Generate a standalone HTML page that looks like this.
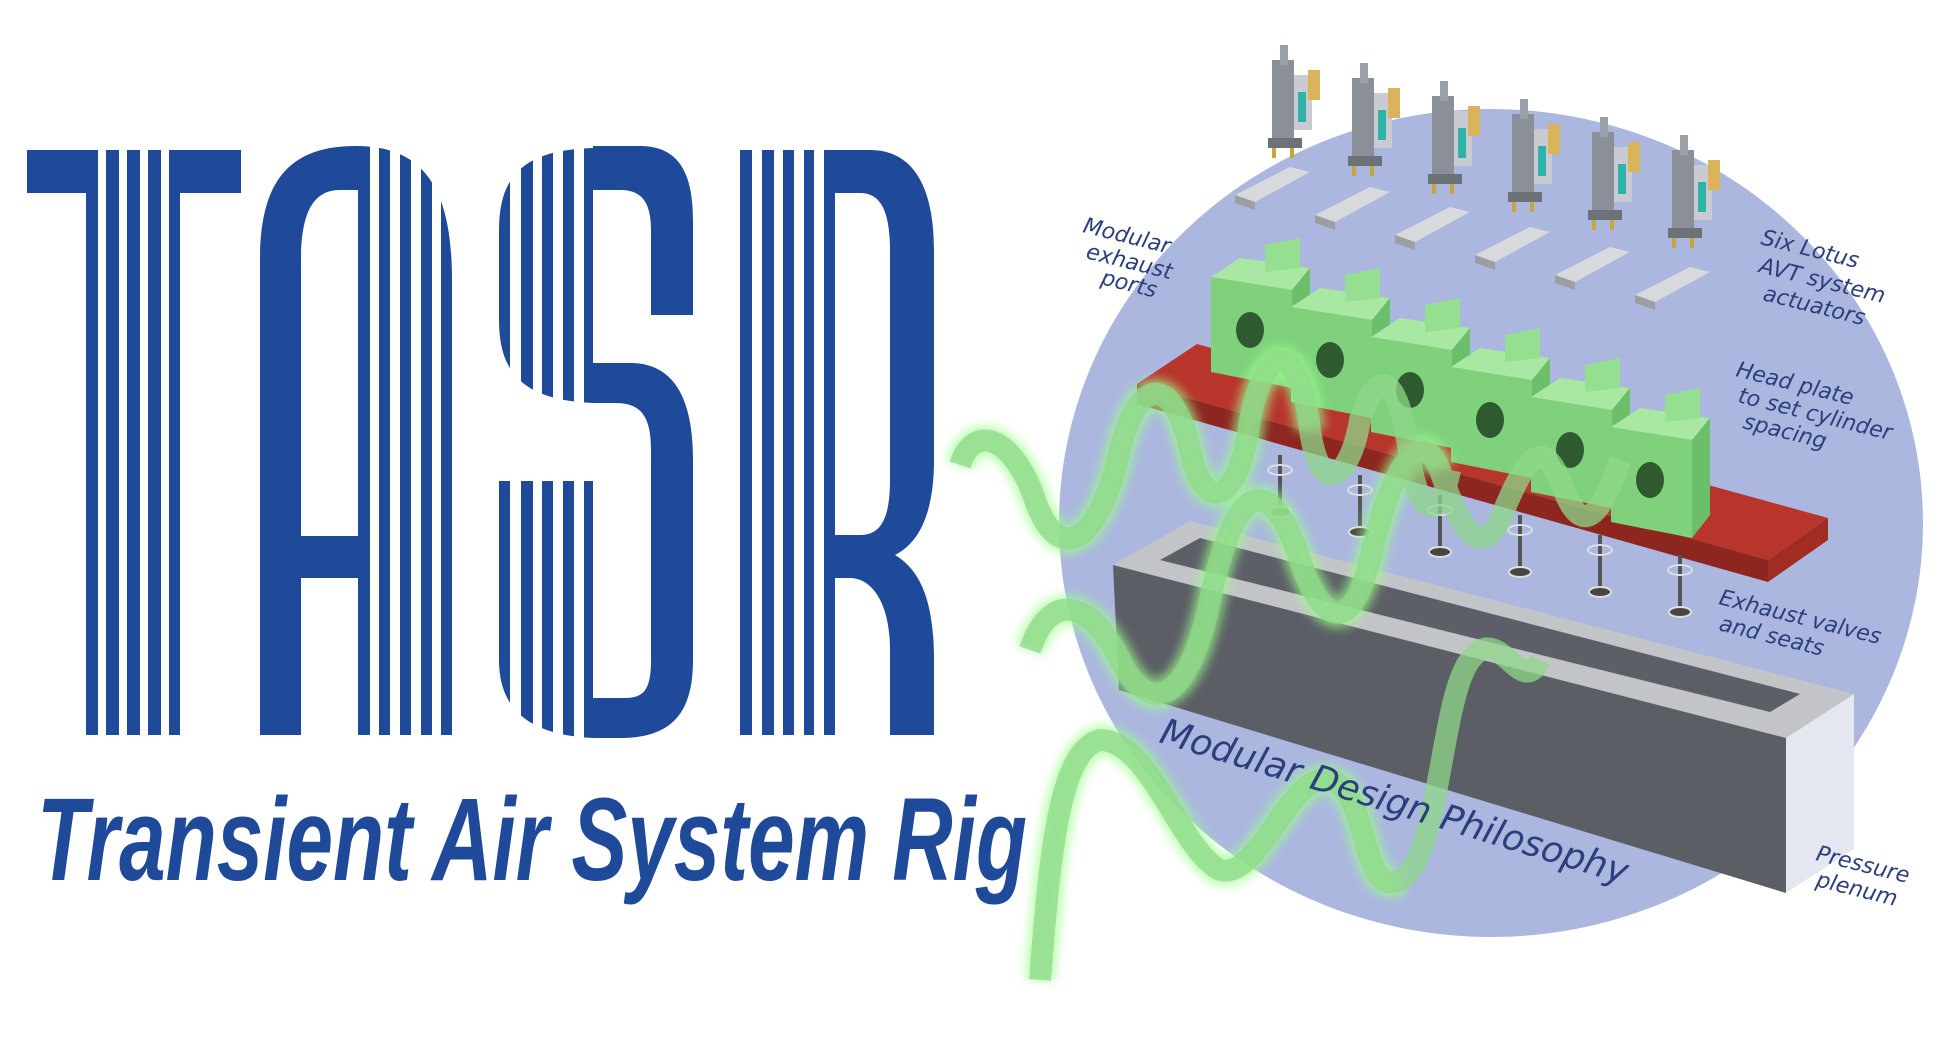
<!DOCTYPE html>
<html><head><meta charset="utf-8"><style>
html,body{margin:0;padding:0;background:#fff;}
svg{display:block;}
.lbl{font-family:"DejaVu Sans","Liberation Sans",sans-serif;font-style:italic;fill:#2b3f7c;font-size:22px;}
</style></head><body>
<svg width="1934" height="1048" viewBox="0 0 1934 1048" xmlns="http://www.w3.org/2000/svg">
<defs>
<filter id="glow" x="-20%" y="-20%" width="140%" height="140%"><feGaussianBlur stdDeviation="5"/></filter>
</defs>
<rect width="1934" height="1048" fill="#fff"/>
<g fill="#1f4a99">
 <rect x="27" y="150" width="214" height="43"/>
 <rect x="86" y="150" width="94" height="585"/>
 <path fill-rule="evenodd" d="M260,735 L260,260 C260,180 290,146 356,146 C425,146 452,190 452,280 L452,735 Z M301,536 L358,536 L358,190 L340,190 C312,190 301,215 301,260 Z M301,578 L358,578 L358,735 L301,735 Z"/>
 <path d="M593,146 L640,146 C680,146 693,175 693,220 L693,315 L651,315 L651,230 C651,200 640,190 620,190 L593,190 Z"/>
 <path d="M499,230 C499,170 530,150 593,148 L593,403 C520,400 499,370 499,320 Z"/>
 <path d="M593,363 L630,363 C675,363 693,400 693,460 L693,660 C693,715 670,738 620,738 L593,738 L593,698 L625,698 C645,698 651,688 651,660 L651,450 C651,415 640,403 615,403 L593,403 Z"/>
 <path d="M499,481 L593,481 L593,738 C530,735 499,710 499,660 Z"/>
 <path fill-rule="evenodd" d="M740,150 L870,150 C915,150 934,190 934,250 L934,460 C934,520 915,545 895,555 C920,570 934,600 934,660 L934,735 L890,735 L890,650 C890,600 870,578 850,578 L835,578 L835,735 L740,735 Z M835,193 L835,535 L860,535 C880,535 890,520 890,480 L890,250 C890,210 880,193 860,193 Z"/>
</g>
<g fill="#fff">
 <rect x="98" y="140" width="8" height="600"/><rect x="119" y="140" width="8" height="600"/><rect x="140" y="140" width="8" height="600"/><rect x="161" y="140" width="8" height="600"/>
 <rect x="370" y="140" width="9" height="600"/><rect x="390" y="140" width="10" height="600"/><rect x="411" y="140" width="10" height="600"/><rect x="432" y="140" width="9" height="600"/>
 <rect x="510" y="140" width="11" height="600"/><rect x="533" y="140" width="9" height="600"/><rect x="553" y="140" width="10" height="600"/><rect x="574" y="140" width="10" height="600"/>
 <rect x="752" y="140" width="10" height="600"/><rect x="774" y="140" width="9" height="600"/><rect x="794" y="140" width="10" height="600"/><rect x="814" y="140" width="10" height="600"/>
</g>
<text x="37" y="880" font-family="Liberation Sans, sans-serif" font-style="italic" font-weight="bold" font-size="118" fill="#1f4a99" textLength="990" lengthAdjust="spacingAndGlyphs">Transient Air System Rig</text>

<ellipse cx="1491" cy="523" rx="432" ry="414" fill="#abb7df"/>

<g>
 <g id="act">
  <rect x="1272" y="60" width="22" height="80" fill="#8a8f98"/>
  <rect x="1280" y="45" width="8" height="20" fill="#9aa0a8"/>
  <rect x="1294" y="75" width="18" height="55" fill="#c8ccd2"/>
  <rect x="1298" y="92" width="8" height="30" fill="#2fb3a8"/>
  <rect x="1308" y="70" width="12" height="30" fill="#d9b45a"/>
  <rect x="1268" y="138" width="34" height="10" fill="#6d7178"/>
  <rect x="1272" y="148" width="4" height="10" fill="#c9a63a"/><rect x="1290" y="148" width="4" height="10" fill="#c9a63a"/>
 </g>
 <use href="#act" x="80" y="18"/><use href="#act" x="160" y="36"/><use href="#act" x="240" y="54"/><use href="#act" x="320" y="72"/><use href="#act" x="400" y="90"/>
</g>
<g>
 <g id="pl"><polygon points="1235,195 1290,167 1310,172 1255,202" fill="#d8d9dc"/><polygon points="1235,195 1255,202 1255,210 1235,203" fill="#9c9ea3"/></g>
 <use href="#pl" x="80" y="20"/><use href="#pl" x="160" y="40"/><use href="#pl" x="240" y="60"/><use href="#pl" x="320" y="80"/><use href="#pl" x="400" y="100"/>
</g>
<polygon points="1113,565 1190,521 1854,694 1786,738" fill="#c3c4c8"/>
<polygon points="1160,560 1200,538 1800,694 1770,712" fill="#5d5f68"/>
<polygon points="1113,565 1786,738 1786,893 1119,690" fill="#5c5e66"/>
<polygon points="1786,738 1854,694 1854,849 1786,893" fill="#e4e6f0"/>
<polygon points="1137,384 1197,344 1828,518 1768,560" fill="#b8352c"/>
<polygon points="1137,384 1768,560 1768,582 1137,404" fill="#8e2620"/>
<polygon points="1768,560 1828,518 1828,540 1768,582" fill="#a02c24"/>
<g fill="#4a4443" stroke="#ddd" stroke-width="2">
 <g id="vl"><line x1="1280" y1="455" x2="1280" y2="510" stroke="#555" stroke-width="4"/><ellipse cx="1280" cy="470" rx="12" ry="5" fill="none"/><ellipse cx="1280" cy="512" rx="11" ry="5"/></g>
 <use href="#vl" x="80" y="20"/><use href="#vl" x="160" y="40"/><use href="#vl" x="240" y="60"/><use href="#vl" x="320" y="80"/><use href="#vl" x="400" y="100"/>
</g>
<g>
 <g id="gb">
  <polygon points="1211,277 1240,258 1310,268 1292,290" fill="#a8e8a2"/>
  <polygon points="1211,277 1292,290 1292,388 1211,372" fill="#7fd17c"/>
  <polygon points="1292,290 1310,268 1310,365 1292,388" fill="#6cbf6a"/>
  <ellipse cx="1250" cy="330" rx="14" ry="18" fill="#2f5a2f"/>
  <polygon points="1265,245 1300,238 1300,268 1265,272" fill="#95df90"/>
 </g>
 <use href="#gb" x="80" y="30"/><use href="#gb" x="160" y="60"/><use href="#gb" x="240" y="90"/><use href="#gb" x="320" y="120"/><use href="#gb" x="400" y="150"/>
</g>
<g fill="none" stroke-linecap="butt">
 <g filter="url(#glow)" stroke="#9cff8c" stroke-width="30" opacity="0.7">
  <path d="M960,465 C975,420 1015,440 1035,500 C1060,570 1100,540 1120,450 C1140,370 1175,380 1190,450 C1205,520 1240,500 1250,420 C1265,340 1300,340 1310,430"/>
  <path d="M1030,650 C1050,590 1090,600 1120,660 C1150,720 1190,700 1210,600 C1235,480 1270,470 1300,560 C1320,620 1350,640 1370,560 C1390,470 1420,420 1440,470"/>
  <path d="M1040,980 C1050,850 1060,750 1100,740 C1150,740 1180,850 1220,870 C1260,880 1290,770 1330,780 C1370,790 1360,900 1400,880"/>
 </g>
 <g stroke="#8fd88a" stroke-width="22" opacity="0.75">
  <path d="M960,465 C975,420 1015,440 1035,500 C1060,570 1100,540 1120,450 C1140,370 1175,380 1190,450 C1205,520 1240,500 1250,420 C1265,340 1300,340 1310,430 C1320,500 1350,480 1360,420 C1380,360 1400,380 1410,460 C1420,520 1440,520 1450,470"/>
  <path d="M1030,650 C1050,590 1090,600 1120,660 C1150,720 1190,700 1210,600 C1235,480 1270,470 1300,560 C1320,620 1350,640 1370,560 C1390,470 1420,420 1440,470 C1460,530 1480,560 1500,520 C1520,470 1540,430 1560,480 C1580,540 1600,520 1620,460"/>
  <path d="M1040,980 C1050,850 1060,750 1100,740 C1150,740 1180,850 1220,870 C1260,880 1290,770 1330,780 C1370,790 1360,900 1400,880 C1440,860 1440,700 1470,660 C1500,620 1520,700 1540,660"/>
 </g>
</g>
<g class="lbl">
 <text transform="translate(1082,232) rotate(14)">Modular</text>
 <text transform="translate(1085,258) rotate(14)">exhaust</text>
 <text transform="translate(1100,284) rotate(14)">ports</text>
 <text transform="translate(1760,244) rotate(14)">Six Lotus</text>
 <text transform="translate(1758,272) rotate(14)">AVT system</text>
 <text transform="translate(1762,300) rotate(14)">actuators</text>
 <text transform="translate(1735,376) rotate(14)">Head plate</text>
 <text transform="translate(1737,402) rotate(14)">to set cylinder</text>
 <text transform="translate(1742,428) rotate(14)">spacing</text>
 <text transform="translate(1718,604) rotate(14)">Exhaust valves</text>
 <text transform="translate(1718,630) rotate(14)">and seats</text>
 <text transform="translate(1815,860) rotate(14)">Pressure</text>
 <text transform="translate(1815,886) rotate(14)">plenum</text>
 <text transform="translate(1158,742) rotate(17)" font-size="36">Modular Design Philosophy</text>
</g>
</svg>
</body></html>
